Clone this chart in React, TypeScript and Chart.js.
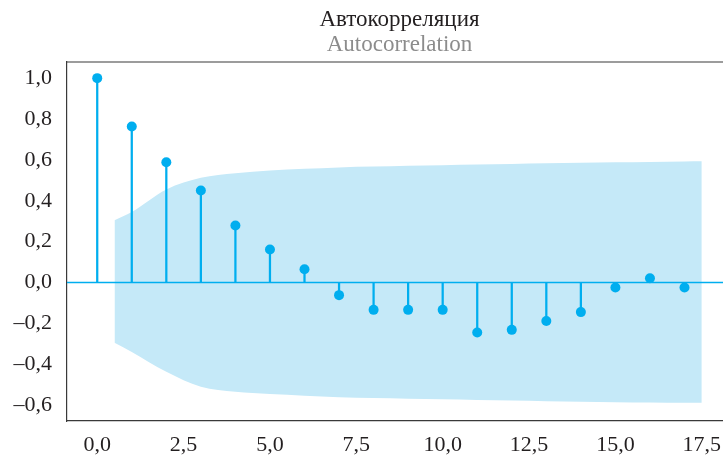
import React, { useEffect, useRef } from 'react';
import { Chart, registerables } from 'chart.js';

Chart.register(...registerables);

// ---- data ----
const lags = [0, 1, 2, 3, 4, 5, 6, 7, 8, 9, 10, 11, 12, 13, 14, 15, 16, 17];
const acfValues = [1.0, 0.763, 0.588, 0.45, 0.279, 0.161, 0.065, -0.062, -0.134, -0.134, -0.134, -0.245, -0.232, -0.189, -0.145, -0.025, 0.021, -0.025];

const bandX = [0.5, 1, 2, 3, 4, 5, 6, 7, 8, 9, 10, 11, 12, 13, 14, 15, 16, 17, 17.5];
const bandUpper = [0.305, 0.345, 0.455, 0.512, 0.535, 0.548, 0.556, 0.563, 0.567, 0.571, 0.574, 0.577, 0.58, 0.583, 0.586, 0.588, 0.59, 0.592, 0.593];
const bandLower = [-0.295, -0.34, -0.437, -0.51, -0.535, -0.546, -0.554, -0.562, -0.566, -0.569, -0.572, -0.575, -0.578, -0.581, -0.584, -0.586, -0.588, -0.589, -0.589];

const xTickValues = [0, 2.5, 5, 7.5, 10, 12.5, 15, 17.5];
const yTickValues = [-0.6, -0.4, -0.2, 0, 0.2, 0.4, 0.6, 0.8, 1.0];

const titleText = 'Автокорреляция';
const subtitleText = 'Autocorrelation';

const X_MIN = -0.875;
const X_MAX = 18.375;
const Y_MIN = -0.678;
const Y_MAX = 1.079;

const CYAN = '#00aeef';
const BAND = '#c5e9f8';
const INK = '#231f20';
const SPINE = '#3a3a3a';
const FONT = "'Liberation Serif', 'Times New Roman', serif";

const fmt = (v: number) => v.toFixed(1).replace('.', ',').replace('-', '\u2013');

const topFrame = {
  id: 'topFrame',
  afterDraw(chart: any) {
    const { ctx, chartArea } = chart;
    ctx.save();
    ctx.strokeStyle = SPINE;
    ctx.lineWidth = 1.2;
    ctx.beginPath();
    ctx.moveTo(chartArea.left, chartArea.top);
    ctx.lineTo(chartArea.right, chartArea.top);
    ctx.stroke();
    ctx.restore();
  },
};

export default function App() {
  const ref = useRef<HTMLCanvasElement>(null);

  useEffect(() => {
    document.documentElement.style.overflow = 'hidden';
    document.body.style.overflow = 'hidden';
    document.body.style.margin = '0';
    const canvas = ref.current;
    if (!canvas) return;

    const chart = new Chart(canvas, {
      type: 'scatter',
      data: {
        datasets: [
          {
            type: 'scatter',
            label: 'acf points',
            data: lags.map((l, i) => ({ x: l, y: acfValues[i] })),
            backgroundColor: CYAN,
            borderWidth: 0,
            pointRadius: 5,
            order: 0,
          } as any,
          {
            type: 'bar',
            label: 'stems',
            data: lags.map((l, i) => ({ x: l, y: [0, acfValues[i]] })),
            backgroundColor: CYAN,
            borderWidth: 0,
            barThickness: 1.6,
            grouped: false,
            order: 1,
          } as any,
          {
            type: 'line',
            label: 'zero',
            data: [
              { x: X_MIN, y: 0 },
              { x: X_MAX, y: 0 },
            ],
            borderColor: CYAN,
            borderWidth: 1.6,
            pointRadius: 0,
            fill: false,
            order: 2,
          } as any,
          {
            type: 'line',
            label: 'band upper',
            data: bandX.map((x, i) => ({ x, y: bandUpper[i] })),
            borderWidth: 0,
            borderColor: 'rgba(0,0,0,0)',
            backgroundColor: BAND,
            pointRadius: 0,
            cubicInterpolationMode: 'monotone',
            fill: '+1',
            order: 3,
          } as any,
          {
            type: 'line',
            label: 'band lower',
            data: bandX.map((x, i) => ({ x, y: bandLower[i] })),
            borderWidth: 0,
            borderColor: 'rgba(0,0,0,0)',
            backgroundColor: BAND,
            pointRadius: 0,
            cubicInterpolationMode: 'monotone',
            fill: false,
            order: 4,
          } as any,
        ],
      },
      options: {
        animation: false,
        responsive: false,
        layout: { padding: { left: 0, right: 8, top: 0, bottom: 0 } },
        plugins: {
          legend: { display: false },
          tooltip: { enabled: false },
          title: {
            display: true,
            text: titleText,
            fullSize: false,
            color: INK,
            font: { family: FONT, size: 23, weight: 'normal', lineHeight: 1 },
            padding: { top: 8, bottom: 2 },
          },
          subtitle: {
            display: true,
            text: subtitleText,
            fullSize: false,
            color: '#8c8c8c',
            font: { family: FONT, size: 23, weight: 'normal', lineHeight: 1 },
            padding: { top: 0, bottom: 6 },
          },
        },
        scales: {
          x: {
            type: 'linear',
            min: X_MIN,
            max: X_MAX,
            offset: false,
            grid: { display: false, drawTicks: true, tickLength: 6, tickColor: SPINE },
            border: { display: true, color: SPINE, width: 1.2 },
            afterBuildTicks: (scale: any) => {
              scale.ticks = xTickValues.map((v) => ({ value: v }));
            },
            afterFit: (scale: any) => {
              scale.height = 35;
            },
            ticks: {
              color: INK,
              font: { family: FONT, size: 22 },
              padding: 5,
              maxRotation: 0,
              autoSkip: false,
              callback: (v: any) => fmt(Number(v)),
            },
          },
          y: {
            type: 'linear',
            min: Y_MIN,
            max: Y_MAX,
            grid: { display: false, drawTicks: true, tickLength: 7, tickColor: SPINE },
            border: { display: true, color: SPINE, width: 1.2 },
            afterBuildTicks: (scale: any) => {
              scale.ticks = yTickValues.map((v) => ({ value: v }));
            },
            afterFit: (scale: any) => {
              scale.width = 67;
            },
            ticks: {
              color: INK,
              font: { family: FONT, size: 22 },
              padding: 8,
              autoSkip: false,
              callback: (v: any) => fmt(Number(v)),
            },
          },
        },
      },
      plugins: [topFrame],
    } as any);

    return () => chart.destroy();
  }, []);

  return (
    <div style={{ position: 'fixed', left: 0, top: 0, width: 740, height: 456, overflow: 'hidden', background: '#fff' }}>
      <canvas ref={ref} width={740} height={456} style={{ width: 740, height: 456, display: 'block' }} />
    </div>
  );
}
